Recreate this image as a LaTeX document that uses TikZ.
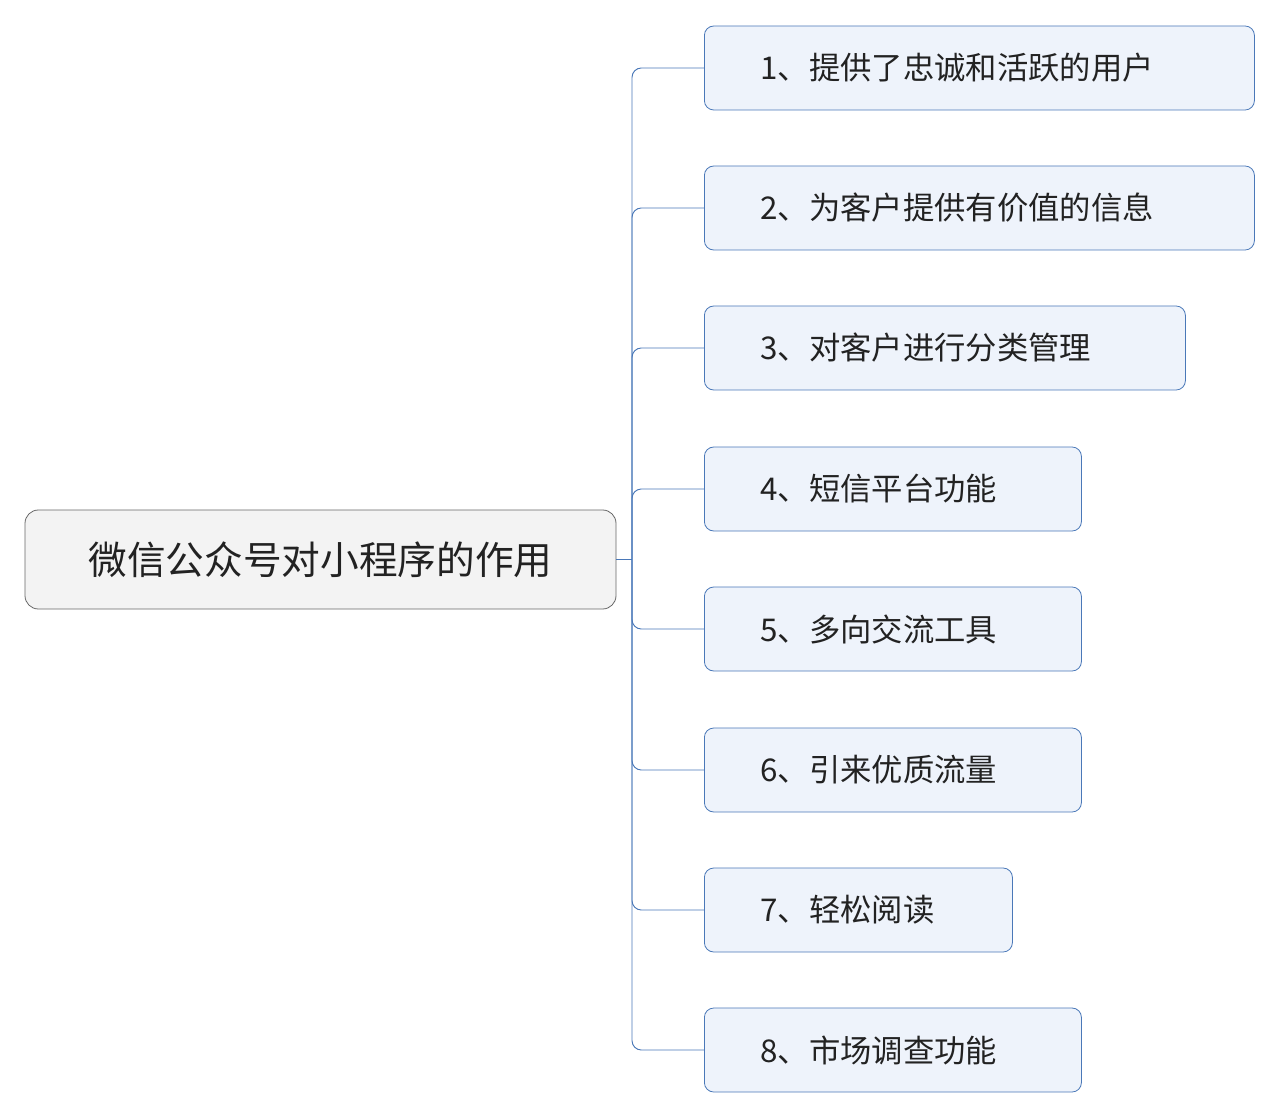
\documentclass[tikz,border=0pt]{standalone}
\usepackage{fontspec}
\setmainfont{Noto Sans CJK SC}
\definecolor{lineblue}{HTML}{4A78B8}
\definecolor{kidfill}{HTML}{EEF3FB}
\definecolor{rootfill}{HTML}{F3F3F3}
\definecolor{txt}{HTML}{222222}
\begin{document}
\begin{tikzpicture}[x=0.75pt,y=-0.75pt,
  rootbox/.style={draw=black!60,fill=rootfill,rounded corners=10pt,line width=0.6pt,minimum width=443.25pt,minimum height=74.25pt,font=\fontsize{29}{32}\selectfont,text=txt},
  kidbox/.style={draw=lineblue,fill=kidfill,rounded corners=7pt,line width=0.6pt,minimum height=63pt,inner xsep=42pt,align=left,anchor=west,font=\fontsize{23.5}{27}\selectfont,text=txt},
  conn/.style={draw=lineblue,line width=0.7pt,rounded corners=7pt}]
\useasboundingbox (0,0) rectangle (1280,1119);
\node[rootbox] (root) at (320.5,559.5) {微信公众号对小程序的作用};
\coordinate (hub) at (632,559.5);
\foreach \i/\y/\w/\t in {1/68/550/{1、提供了忠诚和活跃的用户},2/208/550/{2、为客户提供有价值的信息},3/348/481/{3、对客户进行分类管理},4/489/377/{4、短信平台功能},5/629/377/{5、多向交流工具},6/770/377/{6、引来优质流量},7/910/308/{7、轻松阅读},8/1050/377/{8、市场调查功能}}{
  \pgfmathsetmacro{\tw}{(\w-112)*0.75}
  \node[kidbox,text width=\tw pt] (k\i) at (704,\y) {\t};
  \draw[conn] (hub) |- (k\i.west);
}
\draw[conn] (root.east) -- (hub);
\end{tikzpicture}
\end{document}
